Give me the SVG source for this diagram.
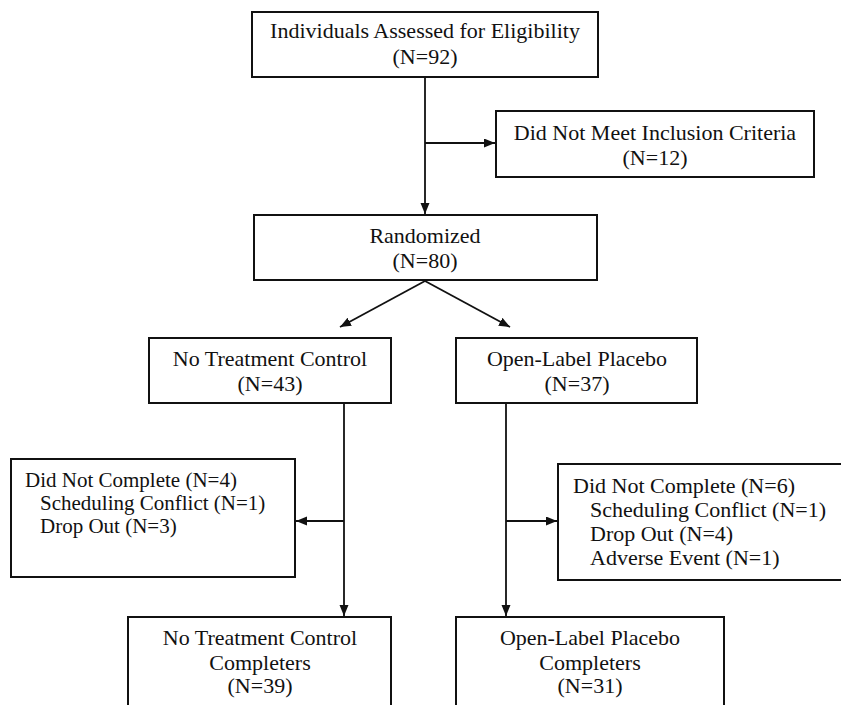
<svg xmlns="http://www.w3.org/2000/svg" width="841" height="705" viewBox="0 0 841 705">
<style>
.box{fill:#fff;stroke:#111;stroke-width:2}
.t{font-family:"Liberation Serif","Times New Roman",serif;font-size:22px;fill:#111}
.s{font-size:21px}
.c{text-anchor:middle}
.ln{stroke:#111;stroke-width:1.8;fill:none}
</style>
<defs>
<marker id="ah" markerUnits="userSpaceOnUse" markerWidth="12" markerHeight="10" refX="11" refY="4.5" orient="auto">
<path d="M0,0 L11,4.5 L0,9 z" fill="#111"/>
</marker>
</defs>
<rect width="841" height="705" fill="#fff"/>
<g id="connectors">
<line class="ln" x1="425" y1="77" x2="425" y2="214" marker-end="url(#ah)"/>
<line class="ln" x1="425" y1="143" x2="495" y2="143" marker-end="url(#ah)"/>
<line class="ln" x1="425" y1="281" x2="340" y2="327" marker-end="url(#ah)"/>
<line class="ln" x1="425" y1="281" x2="510" y2="327" marker-end="url(#ah)"/>
<line class="ln" x1="344" y1="403" x2="344" y2="616" marker-end="url(#ah)"/>
<line class="ln" x1="344" y1="521" x2="296" y2="521" marker-end="url(#ah)"/>
<line class="ln" x1="506" y1="403" x2="506" y2="616" marker-end="url(#ah)"/>
<line class="ln" x1="506" y1="521" x2="557" y2="521" marker-end="url(#ah)"/>
</g>
<g id="assessed">
<rect class="box" x="252" y="12" width="346" height="65"/>
<text class="t c" x="425" y="38">Individuals Assessed for Eligibility</text>
<text class="t c" x="425" y="64">(N=92)</text>
</g>
<g id="excluded">
<rect class="box" x="496" y="111" width="318" height="66"/>
<text class="t c" x="655" y="140">Did Not Meet Inclusion Criteria</text>
<text class="t c" x="655" y="165">(N=12)</text>
</g>
<g id="randomized">
<rect class="box" x="254" y="215" width="343" height="65"/>
<text class="t c" x="425" y="243">Randomized</text>
<text class="t c" x="425" y="268">(N=80)</text>
</g>
<g id="ntc">
<rect class="box" x="149" y="338" width="242" height="65"/>
<text class="t c" x="270" y="366">No Treatment Control</text>
<text class="t c" x="270" y="391">(N=43)</text>
</g>
<g id="olp">
<rect class="box" x="456" y="338" width="241" height="65"/>
<text class="t c" x="577" y="366">Open-Label Placebo</text>
<text class="t c" x="577" y="391">(N=37)</text>
</g>
<g id="ntc-dropout">
<rect class="box" x="11" y="459" width="284" height="118"/>
<text class="t s" x="25" y="487">Did Not Complete (N=4)</text>
<text class="t s" x="40" y="510">Scheduling Conflict (N=1)</text>
<text class="t s" x="40" y="533">Drop Out (N=3)</text>
</g>
<g id="olp-dropout">
<rect class="box" x="558" y="464" width="290" height="116"/>
<text class="t" x="573" y="493">Did Not Complete (N=6)</text>
<text class="t" x="590" y="517">Scheduling Conflict (N=1)</text>
<text class="t" x="590" y="541">Drop Out (N=4)</text>
<text class="t" x="590" y="565">Adverse Event (N=1)</text>
</g>
<g id="ntc-completers">
<rect class="box" x="128" y="617" width="263" height="100"/>
<text class="t c" x="260" y="645">No Treatment Control</text>
<text class="t c" x="260" y="670">Completers</text>
<text class="t c" x="260" y="693">(N=39)</text>
</g>
<g id="olp-completers">
<rect class="box" x="456" y="617" width="268" height="100"/>
<text class="t c" x="590" y="645">Open-Label Placebo</text>
<text class="t c" x="590" y="670">Completers</text>
<text class="t c" x="590" y="693">(N=31)</text>
</g>
</svg>
